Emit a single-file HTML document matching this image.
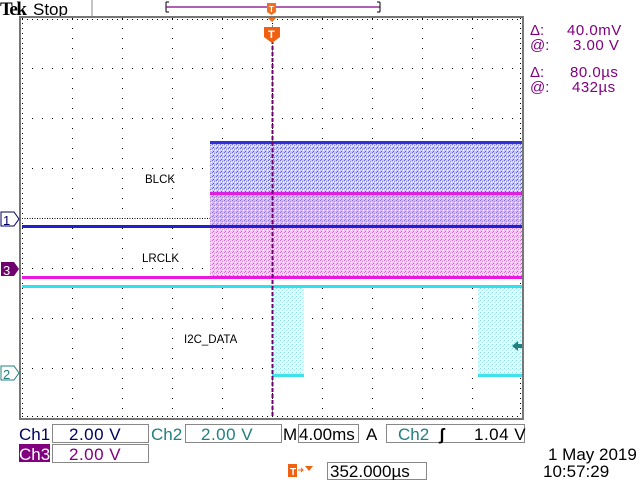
<!DOCTYPE html>
<html><head><style>
body{margin:0;background:#fff;width:640px;height:480px;overflow:hidden;font-family:"Liberation Sans",sans-serif}
</style></head><body>
<svg width="640" height="480" xmlns="http://www.w3.org/2000/svg" font-family="Liberation Sans, sans-serif">
<defs>
<pattern id="nb" width="4" height="4" patternUnits="userSpaceOnUse"><rect width="4" height="4" fill="#c8c8f6"/><rect x="0" y="0" width="1" height="1" fill="#6a6ae0"/><rect x="2" y="1" width="1" height="1" fill="#8080e8"/><rect x="1" y="3" width="1" height="1" fill="#5a5ad8"/><rect x="3" y="2" width="1" height="1" fill="#fff"/><rect x="1" y="1" width="1" height="1" fill="#fff"/></pattern>
<pattern id="np" width="4" height="4" patternUnits="userSpaceOnUse"><rect width="4" height="4" fill="#f2c8f2"/><rect x="0" y="0" width="1" height="1" fill="#d870d8"/><rect x="2" y="1" width="1" height="1" fill="#e080e0"/><rect x="1" y="3" width="1" height="1" fill="#cc60cc"/><rect x="3" y="2" width="1" height="1" fill="#fff"/><rect x="1" y="1" width="1" height="1" fill="#fff"/></pattern>
<pattern id="nm" width="4" height="4" patternUnits="userSpaceOnUse"><rect width="4" height="4" fill="#dcb8f0"/><rect x="0" y="0" width="1" height="1" fill="#8070e0"/><rect x="2" y="1" width="1" height="1" fill="#d070d8"/><rect x="1" y="3" width="1" height="1" fill="#9a80e0"/><rect x="3" y="2" width="1" height="1" fill="#fff"/></pattern>
<pattern id="nc" width="4" height="4" patternUnits="userSpaceOnUse"><rect width="4" height="4" fill="#e8fafc"/><rect x="0" y="0" width="1" height="1" fill="#80e4ee"/><rect x="2" y="2" width="1" height="1" fill="#a0ecf4"/><rect x="3" y="1" width="1" height="1" fill="#b8f0f6"/></pattern>
</defs>
<!-- header -->
<text x="0" y="15" font-family="Liberation Serif, serif" font-weight="bold" font-size="19" letter-spacing="-1.5">Tek</text>
<text x="33" y="15" font-size="17">Stop</text>
<line x1="92" y1="0" x2="92" y2="16" stroke="#888"/>
<path d="M166 2 v10 M166 2 h3 M166 12 h3" stroke="#000" fill="none"/>
<line x1="166" y1="7" x2="380" y2="7" stroke="#800080" stroke-width="1.2"/>
<path d="M380 2 v10 M377 2 h3 M377 12 h3" stroke="#000" fill="none"/>
<path d="M267 3 h9 v9 l-4.5 3 l-4.5 -3z" fill="#f07020"/>
<text x="269" y="12" font-size="8" fill="#fff" font-weight="bold">T</text>
<rect x="21" y="16" width="502" height="403" fill="#fff"/>
<g stroke="#000" stroke-width="1" stroke-dasharray="1 9">
<line x1="22" y1="68.5" x2="522" y2="68.5"/>
<line x1="22" y1="118.5" x2="522" y2="118.5"/>
<line x1="22" y1="168.5" x2="522" y2="168.5"/>
<line x1="22" y1="268.5" x2="522" y2="268.5"/>
<line x1="22" y1="318.5" x2="522" y2="318.5"/>
<line x1="22" y1="368.5" x2="522" y2="368.5"/>
<line x1="72.5" y1="18" x2="72.5" y2="418"/>
<line x1="122.5" y1="18" x2="122.5" y2="418"/>
<line x1="172.5" y1="18" x2="172.5" y2="418"/>
<line x1="222.5" y1="18" x2="222.5" y2="418"/>
<line x1="322.5" y1="18" x2="322.5" y2="418"/>
<line x1="372.5" y1="18" x2="372.5" y2="418"/>
<line x1="422.5" y1="18" x2="422.5" y2="418"/>
<line x1="472.5" y1="18" x2="472.5" y2="418"/>
</g>
<g stroke="#000" stroke-width="1" stroke-dasharray="1 1.5">
<line x1="22" y1="218.5" x2="522" y2="218.5"/>
<line x1="272.5" y1="18" x2="272.5" y2="418"/>
</g>
<g stroke="#000" stroke-dasharray="1 4">
<line x1="22" y1="19.5" x2="522" y2="19.5"/>
<line x1="22" y1="416.5" x2="522" y2="416.5"/>
<line x1="22.5" y1="18" x2="22.5" y2="418"/>
<line x1="520.5" y1="18" x2="520.5" y2="418"/>
</g>
<!-- bands -->
<rect x="210" y="142" width="312" height="51" fill="url(#nb)"/>
<rect x="210" y="193" width="312" height="33" fill="url(#nm)"/>
<rect x="210" y="226" width="312" height="51" fill="url(#np)"/>
<rect x="272" y="288" width="32" height="88" fill="url(#nc)"/>
<rect x="478" y="288" width="44" height="88" fill="url(#nc)"/>
<!-- lines -->
<rect x="210" y="141" width="312" height="3" fill="#3030d8"/>
<rect x="210" y="192" width="312" height="3" fill="#e020e0"/>
<rect x="22" y="225" width="500" height="3" fill="#2020d0"/>
<rect x="22" y="276" width="500" height="3" fill="#e818e0"/>
<rect x="22" y="285" width="500" height="3" fill="#30e0ec"/>
<rect x="272" y="374" width="32" height="3" fill="#40e0ec"/>
<rect x="478" y="374" width="44" height="3" fill="#40e0ec"/>
<line x1="272.5" y1="40" x2="272.5" y2="418" stroke="#700070" stroke-width="2" stroke-dasharray="4 2"/>
<path d="M266 16 h12 l-6 6z" fill="#f07020"/>
<path d="M264 27 h16 v10 l-8 6 l-8 -6z" fill="#f06010"/>
<text x="268" y="38" font-size="11" fill="#fff" font-weight="bold">T</text>
<!-- border -->
<rect x="19" y="16" width="2" height="404" fill="#777"/>
<rect x="522" y="16" width="2" height="404" fill="#777"/>
<rect x="19" y="16" width="505" height="2" fill="#777"/>
<rect x="19" y="418" width="505" height="2" fill="#777"/>
<path d="M1 212 h13 l5 7 l-5 7 h-13z" fill="#fff" stroke="#000060"/>
<text x="3" y="225" font-size="13" fill="#000060">1</text>
<path d="M1 262 h13 l5 7 l-5 7 h-13z" fill="#700070"/>
<text x="3" y="275" font-size="13" fill="#fff">3</text>
<path d="M1 366 h13 l5 7 l-5 7 h-13z" fill="#fff" stroke="#208080"/>
<text x="3" y="379" font-size="13" fill="#208080">2</text>
<path d="M512 346 l6 -5 v3 h4 v4 h-4 v3z" fill="#208080"/>
<text x="145" y="183" font-size="11.5">BLCK</text>
<text x="142" y="262" font-size="11.5">LRCLK</text>
<text x="184" y="343" font-size="11.5">I2C_DATA</text>
<g fill="#800080" font-size="15">
<text x="530" y="35">Δ:</text><text x="567" y="35" letter-spacing="0.5">40.0mV</text>
<text x="530" y="50">@:</text><text x="573" y="50" letter-spacing="0.5">3.00 V</text>
<text x="530" y="77">Δ:</text><text x="570" y="77" letter-spacing="0.5">80.0µs</text>
<text x="530" y="92">@:</text><text x="572" y="92" letter-spacing="0.5">432µs</text>
</g>
<g font-size="17">
<text x="19" y="440" fill="#000060">Ch1</text>
<rect x="52.5" y="424.5" width="96" height="18" fill="none" stroke="#888"/>
<text x="69" y="440" fill="#000060" letter-spacing="0.5">2.00 V</text>
<text x="151" y="440" fill="#208080">Ch2</text>
<rect x="185.5" y="424.5" width="96" height="18" fill="none" stroke="#888"/>
<text x="201" y="440" fill="#208080" letter-spacing="0.5">2.00 V</text>
<text x="283" y="440">M</text>
<rect x="298.5" y="424.5" width="60" height="18" fill="none" stroke="#888"/>
<text x="299" y="440">4.00ms</text>
<text x="366" y="440">A</text>
<rect x="386.5" y="424.5" width="138" height="18" fill="none" stroke="#888"/>
<text x="398" y="440" fill="#208080">Ch2</text>
<text x="439" y="440" font-weight="bold">ʃ</text>
<text x="474" y="440" letter-spacing="0.5">1.04 V</text>
<rect x="19" y="444" width="31" height="18" fill="#800080"/>
<text x="19" y="460" fill="#fff">Ch3</text>
<rect x="52.5" y="444.5" width="96" height="18" fill="none" stroke="#888"/>
<text x="69" y="460" fill="#800080" letter-spacing="0.5">2.00 V</text>
<rect x="327.5" y="462.5" width="99" height="17" fill="none" stroke="#888"/>
<text x="330" y="477">352.000µs</text>
<text x="548" y="460">1 May 2019</text>
<text x="543" y="477">10:57:29</text>
</g>
<rect x="288" y="464" width="9" height="13" fill="#f06010"/>
<text x="290" y="475" font-size="10" fill="#fff" font-weight="bold">T</text>
<path d="M298 470 h5 M301 468 l2 2 l-2 2" stroke="#f06010" fill="none"/>
<path d="M305 466 h8 l-4 5z" fill="#f06010"/>
</svg>
</body></html>
